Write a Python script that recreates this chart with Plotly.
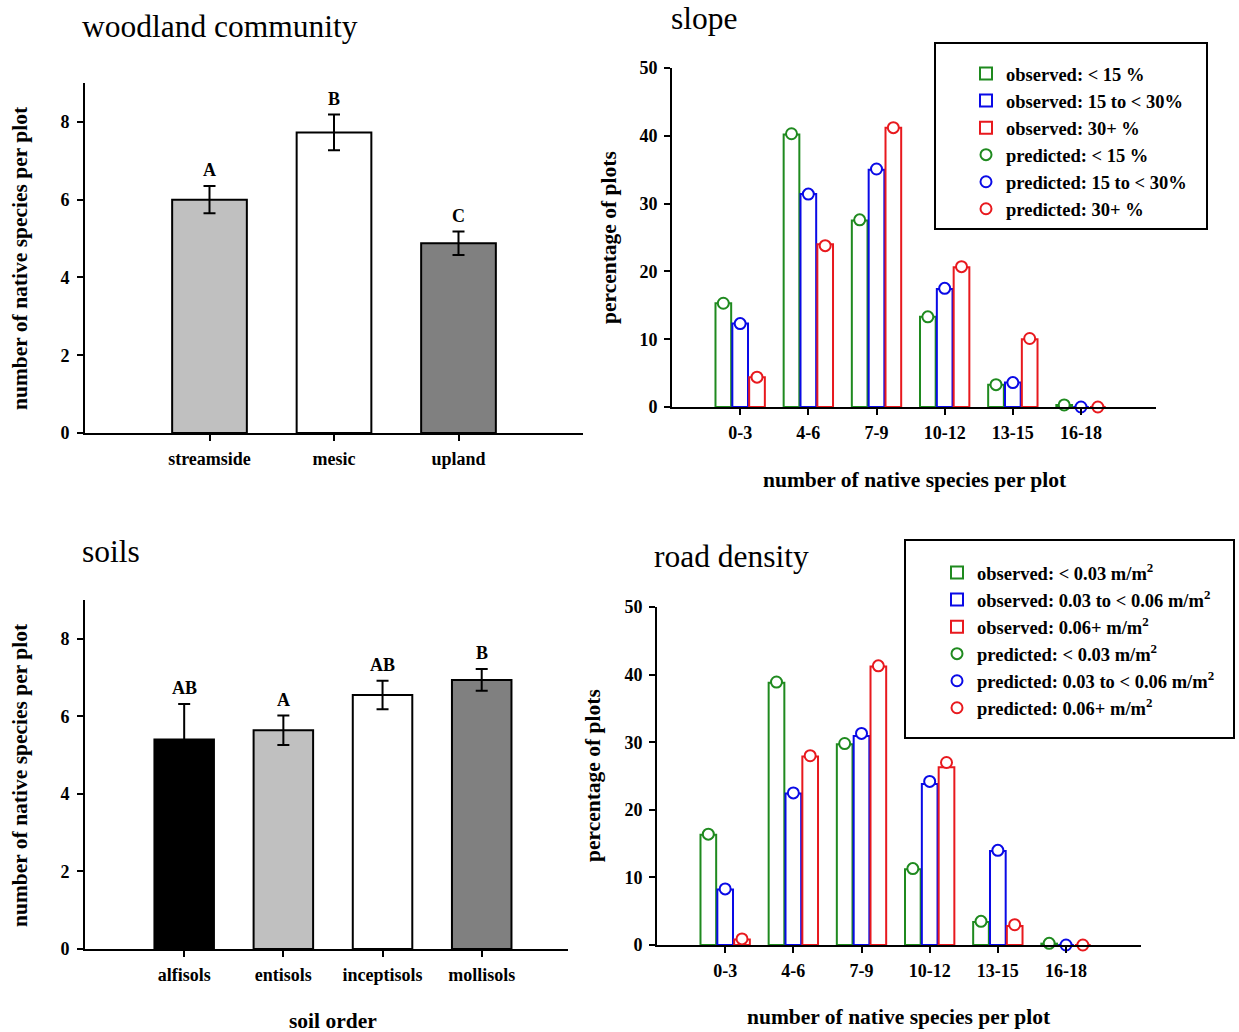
import plotly.graph_objects as go

# ---------------- data ----------------
wood_cats = ["streamside", "mesic", "upland"]
wood_means = [6.0, 7.73, 4.88]
wood_se = [0.35, 0.46, 0.30]
wood_letters = ["A", "B", "C"]
wood_colors = ["#c0c0c0", "#ffffff", "#808080"]

soil_cats = ["alfisols", "entisols", "inceptisols", "mollisols"]
soil_means = [5.40, 5.64, 6.55, 6.94]
soil_se = [0.92, 0.38, 0.37, 0.28]
soil_letters = ["AB", "A", "AB", "B"]
soil_colors = ["#000000", "#c0c0c0", "#ffffff", "#808080"]

richness_bins = ["0-3", "4-6", "7-9", "10-12", "13-15", "16-18"]

slope_obs_low = [15.3, 40.2, 27.5, 13.3, 3.3, 0.3]
slope_obs_mid = [12.3, 31.4, 35.0, 17.4, 3.6, 0.0]
slope_obs_high = [4.4, 24.0, 41.2, 20.6, 10.0, 0.0]
slope_pred_low = [15.3, 40.3, 27.6, 13.3, 3.3, 0.3]
slope_pred_mid = [12.3, 31.4, 35.1, 17.5, 3.6, 0.0]
slope_pred_high = [4.4, 23.8, 41.2, 20.7, 10.1, 0.0]
slope_labels = ["< 15 %", "15 to < 30%", "30+ %"]

road_obs_low = [16.3, 38.8, 29.7, 11.2, 3.4, 0.2]
road_obs_mid = [8.2, 22.4, 30.9, 23.8, 13.9, 0.0]
road_obs_high = [0.8, 27.9, 41.2, 26.3, 2.8, 0.0]
road_pred_low = [16.4, 38.9, 29.8, 11.3, 3.5, 0.25]
road_pred_mid = [8.3, 22.5, 31.3, 24.2, 14.0, 0.0]
road_pred_high = [0.9, 28.0, 41.3, 27.0, 3.0, 0.0]
road_labels = ["< 0.03 m/m<sup>2</sup>", "0.03 to < 0.06 m/m<sup>2</sup>", "0.06+ m/m<sup>2</sup>"]

series_colors = ["#1f8a1f", "#0a0ae6", "#e8191e"]

# ---------------- styling ----------------
FONT = "Liberation Serif, Times New Roman, serif"
W, H = 1239, 1032


def px_x(p):
    return p / W


def px_y(p):
    return 1 - p / H


fig = go.Figure()

# --- left panels: single-series bars with error bars ---
def add_mean_bars(cats, means, se, colors, xa, ya):
    idx = list(range(len(cats)))
    fig.add_trace(go.Bar(
        x=idx, y=means, width=0.6, offset=-0.3,
        marker=dict(color=colors, line=dict(color="black", width=2)),
        error_y=dict(type="data", array=se, color="black", thickness=2, width=6),
        xaxis=xa, yaxis=ya, showlegend=False, hoverinfo="skip"))


add_mean_bars(wood_cats, wood_means, wood_se, wood_colors, "x", "y")
add_mean_bars(soil_cats, soil_means, soil_se, soil_colors, "x3", "y3")

# --- right panels: grouped open bars with predicted circles ---
BAR_W = 0.23
CENTERS = [-0.247, 0.0, 0.247]


def add_hist(obs_list, pred_list, labels, xa, ya, legend):
    idx = list(range(len(richness_bins)))
    for k, (obs, col, lab) in enumerate(zip(obs_list, series_colors, labels)):
        fig.add_trace(go.Bar(
            x=idx, y=obs, width=BAR_W, offset=CENTERS[k] - BAR_W / 2,
            marker=dict(color="white", line=dict(color=col, width=2)),
            name="observed: " + lab, xaxis=xa, yaxis=ya, legend=legend,
            hoverinfo="skip"))
    for k, (pred, col, lab) in enumerate(zip(pred_list, series_colors, labels)):
        fig.add_trace(go.Scatter(
            x=[i + CENTERS[k] for i in idx], y=pred, mode="markers",
            marker=dict(symbol="circle", size=11, color="white",
                        line=dict(color=col, width=2)),
            name="predicted: " + lab, xaxis=xa, yaxis=ya, legend=legend,
            cliponaxis=False, hoverinfo="skip"))


add_hist([slope_obs_low, slope_obs_mid, slope_obs_high],
         [slope_pred_low, slope_pred_mid, slope_pred_high],
         slope_labels, "x2", "y2", "legend")
add_hist([road_obs_low, road_obs_mid, road_obs_high],
         [road_pred_low, road_pred_mid, road_pred_high],
         road_labels, "x4", "y4", "legend2")

tickfont = dict(family=FONT, size=18, color="black", weight="bold")
common_axis = dict(showline=True, linewidth=2, linecolor="black", ticks="outside",
                   ticklen=6, tickwidth=2, tickcolor="black", showgrid=False,
                   zeroline=False, tickfont=tickfont, fixedrange=True,
                   automargin=False)

layout_axes = {}
# top-left
layout_axes["xaxis"] = dict(common_axis, domain=[px_x(85), px_x(583)], range=[-1, 3],
                            tickvals=list(range(len(wood_cats))), ticktext=wood_cats,
                            anchor="y", ticklabelstandoff=2)
layout_axes["yaxis"] = dict(common_axis, domain=[px_y(433), px_y(83)], range=[0, 9],
                            tickvals=[0, 2, 4, 6, 8], anchor="x", ticklabelstandoff=4)
# top-right
layout_axes["xaxis2"] = dict(common_axis, domain=[px_x(672), px_x(1156)], range=[-1, 6.1],
                             tickvals=list(range(len(richness_bins))), ticktext=richness_bins,
                             anchor="y2", ticklabelstandoff=2)
layout_axes["yaxis2"] = dict(common_axis, domain=[px_y(407), px_y(68)], range=[0, 50],
                             tickvals=[0, 10, 20, 30, 40, 50], anchor="x2", ticklabelstandoff=3)
# bottom-left
layout_axes["xaxis3"] = dict(common_axis, domain=[px_x(85), px_x(568)], range=[-1, 3.87],
                             tickvals=list(range(len(soil_cats))), ticktext=soil_cats,
                             anchor="y3", ticklabelstandoff=2)
layout_axes["yaxis3"] = dict(common_axis, domain=[px_y(949), px_y(600)], range=[0, 9],
                             tickvals=[0, 2, 4, 6, 8], anchor="x3", ticklabelstandoff=4)
# bottom-right
layout_axes["xaxis4"] = dict(common_axis, domain=[px_x(657), px_x(1141)], range=[-1, 6.1],
                             tickvals=list(range(len(richness_bins))), ticktext=richness_bins,
                             anchor="y4", ticklabelstandoff=2)
layout_axes["yaxis4"] = dict(common_axis, domain=[px_y(945), px_y(607)], range=[0, 50],
                             tickvals=[0, 10, 20, 30, 40, 50], anchor="x4", ticklabelstandoff=3)

annotations = []


def ann(text, x, y, size, bold=False, angle=0, xanchor="center", yanchor="middle"):
    annotations.append(dict(
        text=text, x=px_x(x), y=px_y(y), xref="paper", yref="paper",
        showarrow=False, textangle=angle, xanchor=xanchor, yanchor=yanchor,
        font=dict(family=FONT, size=size, color="black",
                  weight="bold" if bold else "normal")))


# panel titles
ann("woodland community", 80, 26, 31.5, xanchor="left")
ann("slope", 669, 18, 31.5, xanchor="left")
ann("soils", 80, 551, 31.5, xanchor="left")
ann("road density", 652, 556, 31.5, xanchor="left")

# axis titles
yt = "number of native species per plot"
ann(yt, 20, 258, 21.5, bold=True, angle=-90)
ann(yt, 20, 775, 21.5, bold=True, angle=-90)
ann("percentage of plots", 609, 238, 21.5, bold=True, angle=-90)
ann("percentage of plots", 593, 776, 21.5, bold=True, angle=-90)
ann("number of native species per plot", 915, 480, 21.5, bold=True)
ann("soil order", 333, 1021, 21.5, bold=True)
ann("number of native species per plot", 899, 1017, 21.5, bold=True)

# significance letters
for xa, ya, means, se, letters in [("x", "y", wood_means, wood_se, wood_letters),
                                   ("x3", "y3", soil_means, soil_se, soil_letters)]:
    for i, (m, s, L) in enumerate(zip(means, se, letters)):
        annotations.append(dict(
            text=L, x=i, y=m + s, xref=xa, yref=ya, showarrow=False,
            yanchor="bottom", yshift=4,
            font=dict(family=FONT, size=18, color="black", weight="bold")))

shapes = [
    dict(type="rect", xref="paper", yref="paper",
         x0=px_x(935), x1=px_x(1207), y0=px_y(229), y1=px_y(43),
         line=dict(color="black", width=2), fillcolor="rgba(0,0,0,0)", layer="above"),
    dict(type="rect", xref="paper", yref="paper",
         x0=px_x(905), x1=px_x(1234), y0=px_y(738), y1=px_y(540),
         line=dict(color="black", width=2), fillcolor="rgba(0,0,0,0)", layer="above"),
]

legend_font = dict(family=FONT, size=18.5, color="black", weight="bold")

fig.update_layout(
    width=W, height=H,
    margin=dict(l=0, r=0, t=0, b=0, autoexpand=False),
    paper_bgcolor="white", plot_bgcolor="white",
    barmode="overlay",
    font=dict(family=FONT, color="black"),
    annotations=annotations,
    shapes=shapes,
    legend=dict(x=px_x(966), y=px_y(55), xanchor="left", yanchor="top",
                bgcolor="rgba(0,0,0,0)", borderwidth=0, font=legend_font,
                traceorder="normal"),
    legend2=dict(x=px_x(937), y=px_y(554), xanchor="left", yanchor="top",
                 bgcolor="rgba(0,0,0,0)", borderwidth=0, font=legend_font,
                 traceorder="normal"),
    **layout_axes,
)

fig.write_html("out.html")
